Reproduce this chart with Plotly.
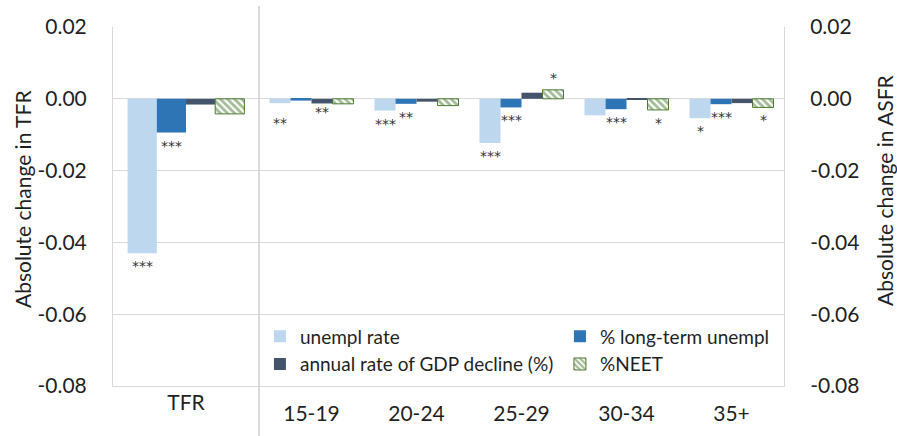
import plotly.graph_objects as go
from plotly.subplots import make_subplots

# ---- data -------------------------------------------------------------
tfr_category = ["TFR"]
asfr_categories = ["15-19", "20-24", "25-29", "30-34", "35+"]
series_names = ["unempl rate", "% long-term unempl",
                "annual rate of GDP decline (%)", "%NEET"]

# absolute change in TFR, one value per series
tfr_unempl = [-0.0430]
tfr_longterm = [-0.0094]
tfr_gdp = [-0.0016]
tfr_neet = [-0.0042]

# absolute change in ASFR by age group
asfr_unempl = [-0.0012, -0.0033, -0.0123, -0.0046, -0.0054]
asfr_longterm = [-0.0005, -0.0014, -0.0024, -0.0029, -0.0015]
asfr_gdp = [-0.0013, -0.0008, 0.0017, -0.0003, -0.0012]
asfr_neet = [-0.0014, -0.0019, 0.0025, -0.0031, -0.0024]

# significance markers
tfr_stars = [["***"], ["***"], [""], [""]]
asfr_stars = [
    ["**", "***", "***", "", "*"],
    ["", "**", "***", "***", "***"],
    ["**", "", "", "", ""],
    ["", "", "*", "*", "*"],
]

y_ticks = [0.02, 0.0, -0.02, -0.04, -0.06, -0.08]
y_ticktext = ["0.02", "0.00", "-0.02", "-0.04", "-0.06", "-0.08"]

# ---- styling ----------------------------------------------------------
FONT = "Lato"
TEXT = "#1f1f1f"
GRID = "#d9d9d9"
colors = ["#bdd7ee", "#2e75b6", "#44546a", "#ffffff"]
neet_pattern = dict(shape="\\", fgcolor="#4a7a2f", bgcolor="#ffffff",
                    size=5, solidity=0.58)

fig = make_subplots(rows=1, cols=2, column_widths=[146, 525],
                    horizontal_spacing=0, shared_yaxes=False)

tfr_series = [tfr_unempl, tfr_longterm, tfr_gdp, tfr_neet]
asfr_series = [asfr_unempl, asfr_longterm, asfr_gdp, asfr_neet]


def bar_marker(i):
    if i == 3:
        return dict(color=colors[i], pattern=neet_pattern,
                    line=dict(color="#4e7a34", width=1))
    return dict(color=colors[i], line=dict(width=0))


for i, name in enumerate(series_names):
    fig.add_trace(go.Bar(x=tfr_category, y=tfr_series[i], name=name,
                         marker=bar_marker(i), showlegend=False,
                         legendgroup=name), row=1, col=1)
    fig.add_trace(go.Bar(x=asfr_categories, y=asfr_series[i], name=name,
                         marker=bar_marker(i), showlegend=True,
                         legendgroup=name), row=1, col=2)

# bar centre offsets within a category (bargap 0.2, 4 bars)
offsets = [-0.3, -0.1, 0.1, 0.3]
# small manual nudges (px) for a couple of labels
nudge = {(1, 0, 0): -7, (1, 2, 0): 4}


def add_stars(xref, yref, values, stars, panel):
    for i, (vals, marks) in enumerate(zip(values, stars)):
        for j, (v, s) in enumerate(zip(vals, marks)):
            if not s:
                continue
            neg = v < 0
            fig.add_annotation(
                x=j + offsets[i], y=v, xref=xref, yref=yref, text=s,
                showarrow=False, xanchor="center",
                yanchor="top" if neg else "bottom",
                yshift=(-3 if neg else 2) + nudge.get((panel, i, j), 0),
                font=dict(family="DejaVu Sans", size=14, color="#333333"))


add_stars("x", "y", tfr_series, tfr_stars, 0)
add_stars("x2", "y2", asfr_series, asfr_stars, 1)

axis_font = dict(family=FONT, size=21, color=TEXT)

fig.update_yaxes(range=[-0.08, 0.02], tickvals=y_ticks, ticktext=y_ticktext,
                 showgrid=True, gridcolor=GRID, gridwidth=1, zeroline=False,
                 showline=True, linecolor=GRID, linewidth=1, ticks="",
                 tickfont=axis_font, ticklabelstandoff=21, automargin=False)
fig.update_yaxes(side="left", row=1, col=1)
fig.update_yaxes(side="right", row=1, col=2)

fig.update_xaxes(showgrid=False, zeroline=False, showline=True,
                 linecolor=GRID, linewidth=1, ticks="", tickfont=axis_font,
                 automargin=False)
fig.update_xaxes(ticklabelstandoff=-2, row=1, col=1)
fig.update_xaxes(ticklabelstandoff=9, row=1, col=2)

# axis titles
fig.add_annotation(text="Absolute change in TFR", xref="paper", yref="paper",
                   x=-0.134, y=0.521, textangle=-90, showarrow=False,
                   xanchor="center", yanchor="middle",
                   font=dict(family=FONT, size=21, color=TEXT))
fig.add_annotation(text="Absolute change in ASFR", xref="paper", yref="paper",
                   x=1.1505, y=0.546, textangle=-90, showarrow=False,
                   xanchor="center", yanchor="middle",
                   font=dict(family=FONT, size=21, color=TEXT))

# divider between the TFR and ASFR panels
fig.add_shape(type="line", xref="paper", yref="paper",
              x0=146 / 671, x1=146 / 671, y0=-0.139, y1=1.0585,
              line=dict(color=GRID, width=2))

fig.update_layout(
    width=897, height=436,
    margin=dict(l=113, r=113, t=27, b=50, autoexpand=False),
    paper_bgcolor="white", plot_bgcolor="white",
    barmode="group", bargap=0.2, bargroupgap=0,
    font=dict(family=FONT, color=TEXT),
    legend=dict(orientation="h", x=0.219, xanchor="left",
                y=0.191, yanchor="top", entrywidthmode="pixels",
                entrywidth=255, bgcolor="rgba(255,255,255,0)",
                font=dict(family=FONT, size=19, color=TEXT),
                traceorder="normal"),
)

fig.write_html("out.html")
